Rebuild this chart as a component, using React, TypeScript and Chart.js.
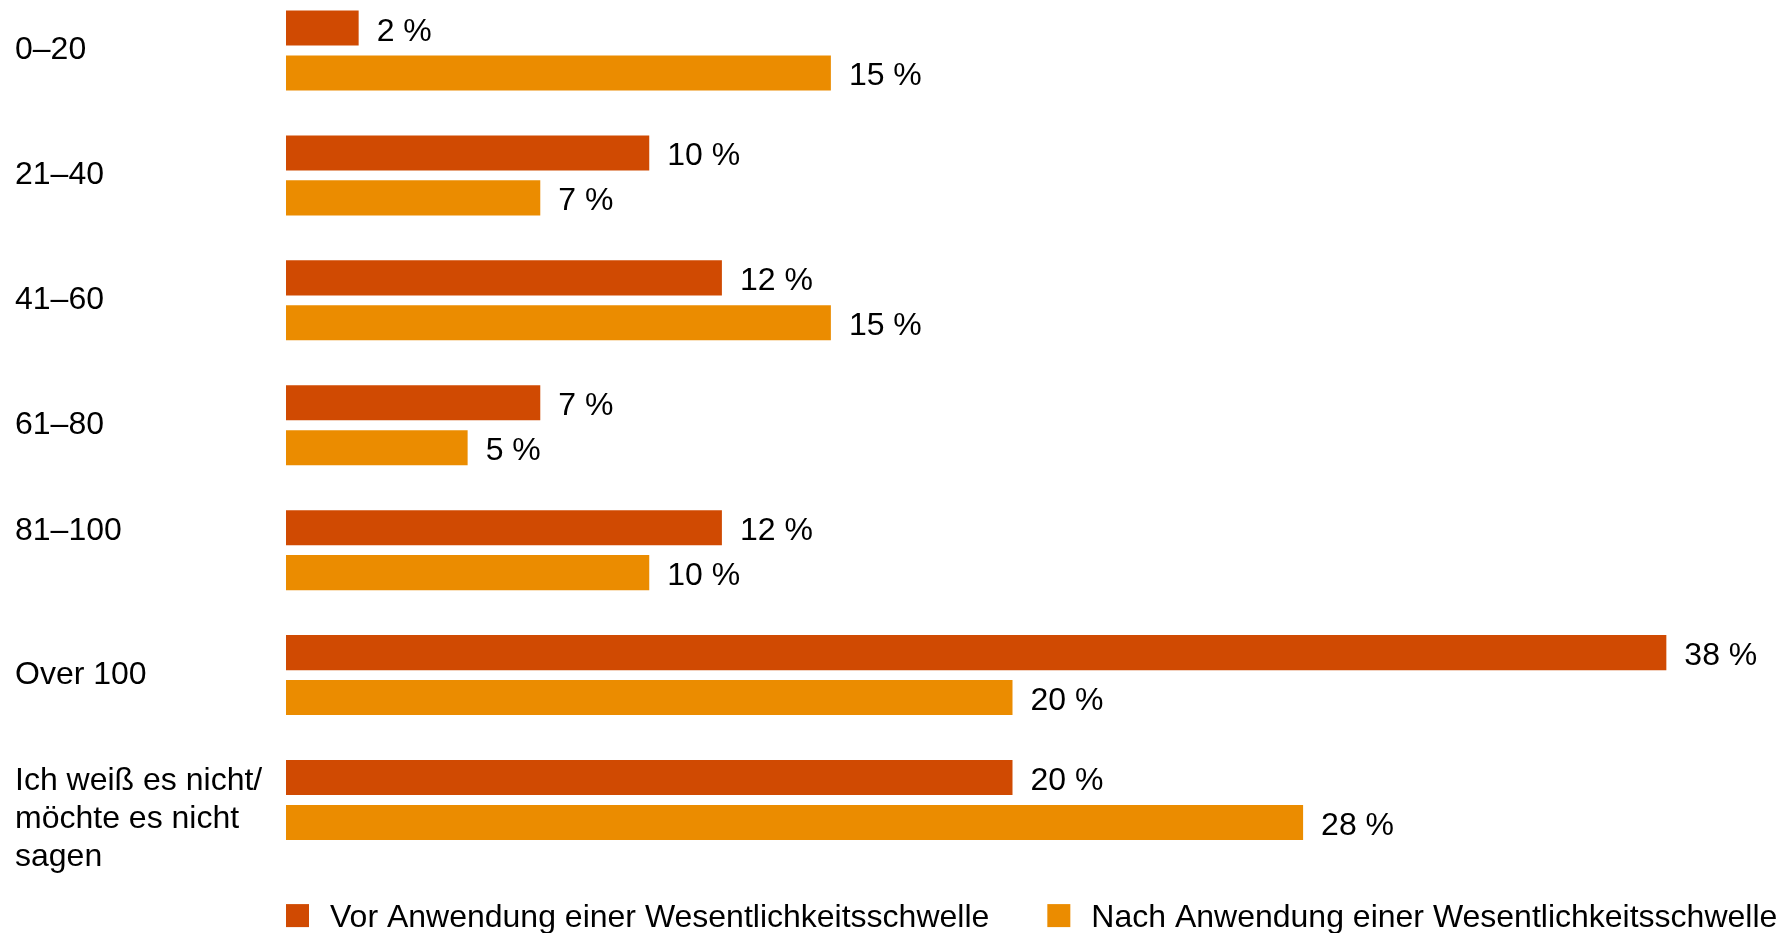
import React, { useEffect, useRef } from "react";
import { Chart, registerables } from "chart.js";

Chart.register(...registerables);

const FONT = "'Liberation Sans', Arial, Helvetica, sans-serif";

const categories: (string | string[])[] = [
  "0–20",
  "21–40",
  "41–60",
  "61–80",
  ["81–100", ""],
  "Over 100",
  ["", "Ich weiß es nicht/", "möchte es nicht", "sagen"],
];

const vorValues = [2, 10, 12, 7, 12, 38, 20];
const nachValues = [15, 7, 15, 5, 10, 20, 28];

const seriesLabels = [
  "Vor Anwendung einer Wesentlichkeitsschwelle",
  "Nach Anwendung einer Wesentlichkeitsschwelle",
];
const seriesColors = ["#D04A02", "#EB8C00"];

const valueLabels = {
  id: "valueLabels",
  afterDatasetsDraw(chart: any) {
    const ctx = chart.ctx;
    ctx.save();
    ctx.font = `32px ${FONT}`;
    ctx.fillStyle = "#000";
    ctx.textBaseline = "alphabetic";
    ctx.textAlign = "left";
    chart.data.datasets.forEach((ds: any, di: number) => {
      const meta = chart.getDatasetMeta(di);
      meta.data.forEach((bar: any, i: number) => {
        ctx.fillText(`${ds.data[i]} %`, bar.x + 18, bar.y + 12.5);
      });
    });
    ctx.restore();
  },
};

const bottomLegend = {
  id: "bottomLegend",
  afterDraw(chart: any, _args: any, opts: any) {
    const { ctx, chartArea } = chart;
    let x = chartArea.left;
    const y = chartArea.bottom + opts.offsetY;
    ctx.save();
    ctx.font = `32px ${FONT}`;
    ctx.textBaseline = "alphabetic";
    ctx.textAlign = "left";
    chart.data.datasets.forEach((ds: any) => {
      ctx.fillStyle = ds.backgroundColor;
      ctx.fillRect(x, y - opts.box / 2, opts.box, opts.box);
      ctx.fillStyle = "#000";
      ctx.fillText(ds.label, x + opts.textGap, y + 11.5);
      x += opts.textGap + ctx.measureText(ds.label).width + opts.itemGap;
    });
    ctx.restore();
  },
};

export default function App() {
  const canvasRef = useRef<HTMLCanvasElement | null>(null);

  useEffect(() => {
    if (!canvasRef.current) return;
    const chart = new Chart(canvasRef.current, {
      type: "bar",
      data: {
        labels: categories,
        datasets: [
          {
            label: seriesLabels[0],
            data: vorValues,
            backgroundColor: seriesColors[0],
            categoryPercentage: 0.72,
            barPercentage: 0.78,
            clip: false,
          },
          {
            label: seriesLabels[1],
            data: nachValues,
            backgroundColor: seriesColors[1],
            categoryPercentage: 0.72,
            barPercentage: 0.78,
            clip: false,
          },
        ],
      },
      options: {
        indexAxis: "y",
        animation: false,
        responsive: true,
        maintainAspectRatio: false,
        layout: { padding: { top: 42.5, bottom: 133, left: 7, right: 41 } },
        scales: {
          x: {
            display: false,
            min: 0,
            max: 40,
          },
          y: {
            offset: false,
            grid: { display: false },
            border: { display: false },
            ticks: {
              autoSkip: false,
              crossAlign: "far",
              padding: 0,
              color: "#000",
              font: { family: FONT, size: 32 },
            },
            afterFit: (scale: any) => {
              scale.width = 271;
              scale.paddingTop = 0;
              scale.paddingBottom = 0;
            },
          },
        },
        plugins: {
          legend: { display: false },
          tooltip: { enabled: false },
          bottomLegend: { offsetY: 115.6, box: 23, textGap: 44, itemGap: 58 },
        } as any,
      },
      plugins: [valueLabels, bottomLegend],
    });
    return () => chart.destroy();
  }, []);

  return (
    <div style={{ position: "fixed", top: 8, left: 8, right: 8, height: 925 }}>
      <canvas ref={canvasRef} />
    </div>
  );
}
